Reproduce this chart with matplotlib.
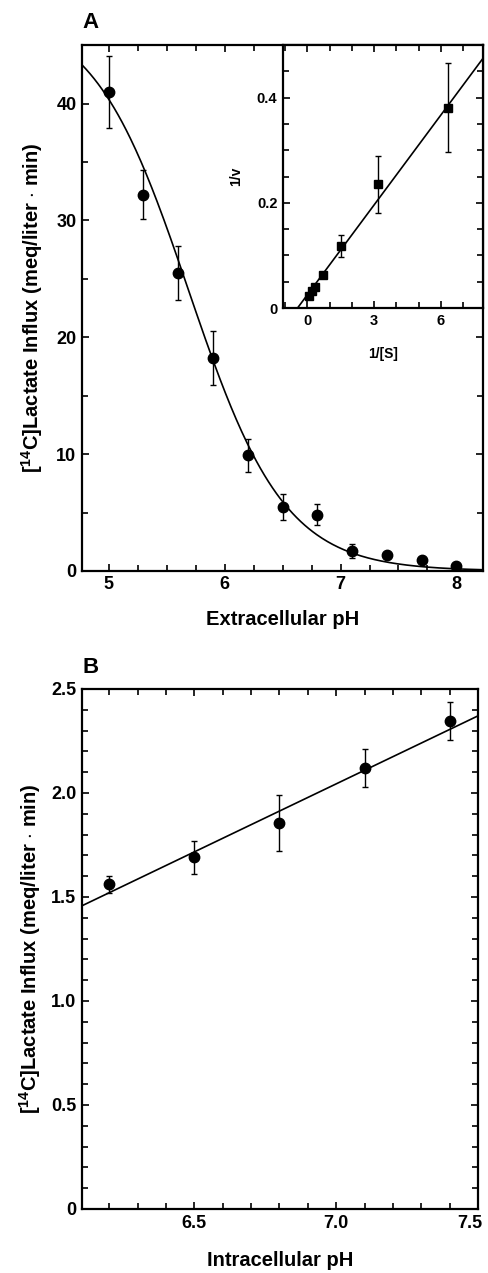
import numpy as np
import matplotlib
matplotlib.use('Agg')
import matplotlib.pyplot as plt
import matplotlib.transforms as mtrans
from matplotlib.ticker import MultipleLocator

plt.rcParams['font.family'] = ['Liberation Sans', 'DejaVu Sans']
plt.rcParams['font.weight'] = 'bold'
plt.rcParams['axes.labelweight'] = 'bold'
plt.rcParams['mathtext.fontset'] = 'custom'
plt.rcParams['mathtext.rm'] = 'Liberation Sans:bold'
plt.rcParams['mathtext.bf'] = 'Liberation Sans:bold'

# Panel A: extracellular pH vs influx
ph_out = [5.0, 5.3, 5.6, 5.9, 6.2, 6.5, 6.8, 7.1, 7.4, 7.7, 8.0]
influx_out = [41.0, 32.2, 25.5, 18.2, 9.9, 5.5, 4.8, 1.7, 1.4, 0.9, 0.4]
influx_out_err = [3.1, 2.1, 2.3, 2.3, 1.4, 1.1, 0.9, 0.6, 0.0, 0.0, 0.0]
# fitted titration curve parameters
fit_top, fit_pk, fit_n = 48.0, 5.69, 1.05

# inset: double reciprocal
inv_s = [0.05, 0.2, 0.35, 0.7, 1.5, 3.15, 6.3]
inv_v = [0.023, 0.033, 0.040, 0.063, 0.118, 0.235, 0.381]
inv_v_err = [0.0, 0.0, 0.0, 0.0, 0.02, 0.055, 0.085]
lb_slope, lb_x0 = 0.0569, -0.45

# Panel B: intracellular pH vs influx
ph_in = [6.2, 6.5, 6.8, 7.1, 7.4]
influx_in = [1.56, 1.69, 1.855, 2.12, 2.345]
influx_in_err = [0.04, 0.08, 0.135, 0.09, 0.09]
lin_slope, lin_icpt = 0.654, 1.455 - 0.654 * 6.1

fig = plt.figure(figsize=(4.88, 12.73), dpi=100)

ylab = r'[$^{14}$C]Lactate Influx (meq/liter $\cdot$ min)'


def style(ax, size=12):
    ax.tick_params(which='both', direction='in', top=True, right=True,
                   width=1.2, labelsize=size, pad=4)
    ax.tick_params(which='major', length=5)
    ax.tick_params(which='minor', length=4)
    for s in ax.spines.values():
        s.set_linewidth(1.6)


# ---- A
ax = fig.add_axes([0.168, 0.5515, 0.822, 0.413])
xx = np.linspace(4.77, 8.23, 300)
ax.plot(xx, fit_top / (1 + 10 ** (fit_n * (xx - fit_pk))), 'k-', lw=1.2)
ax.errorbar(ph_out, influx_out, yerr=influx_out_err, fmt='o', color='k',
            ms=7.5, capsize=2, elinewidth=1, capthick=1)
ax.set_xlim(4.77, 8.23)
ax.set_ylim(0, 45)
ax.xaxis.set_major_locator(MultipleLocator(1))
ax.xaxis.set_minor_locator(MultipleLocator(0.25))
ax.yaxis.set_major_locator(MultipleLocator(10))
ax.yaxis.set_minor_locator(MultipleLocator(5))
style(ax, 13)
ax.set_xlabel('Extracellular pH', fontsize=14.5, labelpad=12)
ax.set_ylabel(ylab, fontsize=14.5, labelpad=8)
fig.text(0.185, 0.982, 'A', fontsize=16, fontweight='bold',
         ha='center', va='center')

# inset
ins = fig.add_axes([0.580, 0.758, 0.410, 0.2066])
xl = np.array([lb_x0, 7.9])
ins.plot(xl, lb_slope * (xl - lb_x0), 'k-', lw=1.2)
ins.errorbar(inv_s, inv_v, yerr=inv_v_err, fmt='s', color='k',
             ms=6, capsize=2, elinewidth=1, capthick=1)
ins.set_xlim(-1.1, 7.9)
ins.set_ylim(0, 0.5)
ins.xaxis.set_major_locator(MultipleLocator(3))
ins.xaxis.set_minor_locator(MultipleLocator(1))
ins.yaxis.set_minor_locator(MultipleLocator(0.05))
ins.set_yticks([0, 0.2, 0.4])
ins.set_yticklabels(['0', '0.2', '0.4'])
style(ins, 10.5)
ins.set_xlabel('1/[S]', fontsize=10, labelpad=14)
ins.set_ylabel('1/v', fontsize=10, labelpad=10)

# ---- B
bx = fig.add_axes([0.168, 0.0503, 0.8115, 0.4085])
xl = np.array([6.1, 7.5])
bx.plot(xl, lin_slope * xl + lin_icpt, 'k-', lw=1.2)
bx.errorbar(ph_in, influx_in, yerr=influx_in_err, fmt='o', color='k',
            ms=7.5, capsize=2, elinewidth=1, capthick=1)
bx.set_xlim(6.104, 7.5)
bx.set_ylim(0, 2.5)
bx.set_xticks([6.5, 7.0, 7.5])
bx.set_xticklabels(['6.5', '7.0', '7.5'])
bx.xaxis.set_minor_locator(MultipleLocator(0.1))
bx.set_yticks([0, 0.5, 1.0, 1.5, 2.0, 2.5])
bx.set_yticklabels(['0', '0.5', '1.0', '1.5', '2.0', '2.5'])
bx.yaxis.set_minor_locator(MultipleLocator(0.1))
style(bx, 13)
# keep the last tick label inside the figure
last = bx.get_xticklabels()[-1]
last.set_transform(last.get_transform() +
                   mtrans.ScaledTranslation(-8 / 100, 0, fig.dpi_scale_trans))
bx.set_xlabel('Intracellular pH', fontsize=14.5, labelpad=14)
bx.set_ylabel(ylab, fontsize=14.5, labelpad=6)
fig.text(0.185, 0.476, 'B', fontsize=16, fontweight='bold',
         ha='center', va='center')

fig.savefig('out.png', dpi=100)
